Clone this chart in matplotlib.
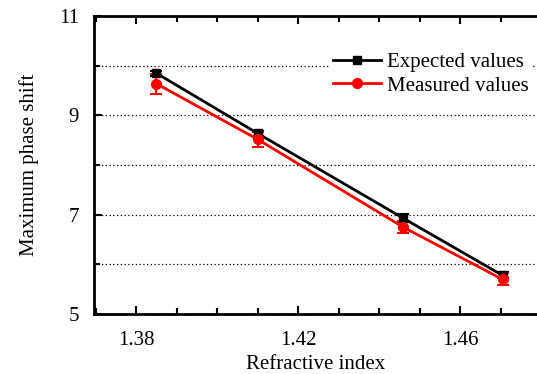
import matplotlib.pyplot as plt
from matplotlib.lines import Line2D
import numpy as np

plt.rcParams['font.family'] = ['Liberation Serif', 'DejaVu Serif']

refr_index = [1.385, 1.41, 1.446, 1.4705]
expected = [9.85, 8.64, 6.93, 5.78]
expected_err = [0.05, 0.05, 0.08, 0.06]
measured = [9.64, 8.52, 6.75, 5.70]
measured_err = [0.2, 0.15, 0.12, 0.12]

fig = plt.figure(figsize=(5.37, 3.74), dpi=100)
ax = fig.add_axes([0.175, 0.16, 0.825, 0.797])

ax.errorbar(refr_index, expected, yerr=expected_err, color='black', marker='s',
            markersize=6, linewidth=2, capsize=4, capthick=1.5, elinewidth=1.5,
            zorder=3)
ax.errorbar(refr_index, measured, yerr=measured_err, color='red', marker='o',
            markersize=7, linewidth=2, capsize=4, capthick=1.5, elinewidth=1.5,
            zorder=3)

ax.set_xlim(1.3696, 1.479)
ax.set_ylim(5, 11)
ax.set_xticks([1.38, 1.42, 1.46])
ax.set_xticks(np.arange(1.37, 1.48, 0.01), minor=True)
ax.set_yticks([5, 7, 9, 11])
ax.set_yticks([6, 8, 10], minor=True)
ax.tick_params(which='both', direction='in', top=True, right=False,
               labelsize=15, width=1.5)
ax.tick_params(which='major', length=6)
ax.tick_params(which='minor', length=4)
ax.tick_params(axis='y', pad=11)
ax.tick_params(axis='x', pad=12)
ax.grid(True, which='both', axis='y', linestyle=(0, (1, 2)), color='black',
        linewidth=0.9)

for side in ['left', 'bottom', 'top']:
    ax.spines[side].set_linewidth(2)
ax.spines['right'].set_visible(False)

ax.set_xlabel('Refractive index', fontsize=15, labelpad=4)
ax.set_ylabel('Maximum phase shift', fontsize=15, labelpad=14)

handles = [Line2D([], [], color='black', marker='s', markersize=6, linewidth=2),
           Line2D([], [], color='red', marker='o', markersize=7, linewidth=2)]
labels = ['Expected values', 'Measured values']
leg = ax.legend(handles, labels, loc='upper left', bbox_to_anchor=(0.507, 0.927),
                fontsize=15, frameon=True, framealpha=1, edgecolor='white',
                handlelength=2.3, borderpad=0.2, handletextpad=0.3,
                labelspacing=0.2)
leg.get_frame().set_linewidth(0)

fig.savefig('out.png', dpi=100)
